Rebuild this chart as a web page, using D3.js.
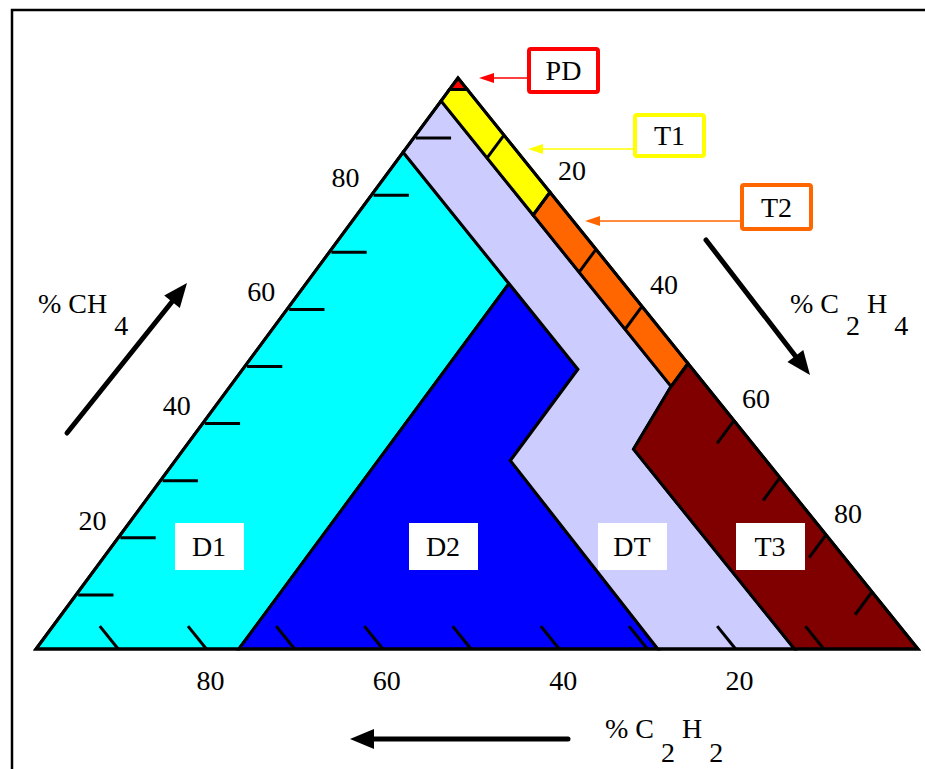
<!DOCTYPE html>
<html>
<head>
<meta charset="utf-8">
<script src="https://cdn.jsdelivr.net/npm/d3@7"></script>
<style>
  html, body { margin: 0; padding: 0; background: #fff; }
  svg { display: block; }
</style>
</head>
<body>
<svg id="chart" width="925" height="769" font-family="'Liberation Serif', 'Times New Roman', Times, serif" font-size="28"></svg>
<script>
// Duval triangle: every point is [CH4 %, C2H2 %, C2H4 %]
const zoneNames = ["D1", "D2", "DT", "T3", "T2", "T1", "PD"];
const zonePD = [[100, 0, 0], [98, 2, 0], [98, 0, 2]];
const zoneT1 = [[98, 2, 0], [96, 4, 0], [76, 4, 20], [80, 0, 20], [98, 0, 2]];
const zoneT2 = [[80, 0, 20], [76, 4, 20], [46, 4, 50], [50, 0, 50]];
const zoneT3 = [[50, 0, 50], [46, 4, 50], [35, 14, 51], [0, 14, 86], [0, 0, 100]];
const zoneD1 = [[0, 100, 0], [87, 13, 0], [64, 13, 23], [0, 77, 23]];
const zoneD2 = [[0, 77, 23], [64, 13, 23], [49, 13, 38], [33, 29, 38], [0, 29.5, 70.5]];
const zoneDT = [[96, 4, 0], [87, 13, 0], [64, 13, 23], [49, 13, 38], [33, 29, 38],
                [0, 29.5, 70.5], [0, 14, 86], [35, 14, 51], [46, 4, 50]];
const tickValues = [10, 20, 30, 40, 50, 60, 70, 80, 90];
const tickLabels = [20, 40, 60, 80];
const tickLength = 4;

const zoneShapes = { PD: zonePD, T1: zoneT1, T2: zoneT2, T3: zoneT3, D1: zoneD1, D2: zoneD2, DT: zoneDT };
const zoneFill = { PD: "#ff0000", T1: "#ffff00", T2: "#ff6600", T3: "#800000",
                   D1: "#00ffff", D2: "#0000ff", DT: "#ccccff" };

const svg = d3.select("#chart");

// frame
svg.append("rect").attr("x", 12).attr("y", 10).attr("width", 930).attr("height", 800)
  .attr("fill", "none").attr("stroke", "#000").attr("stroke-width", 2.5);

// ternary projection: C2H4 runs along the base, CH4 raises and shears towards the apex
const xC2H4 = d3.scaleLinear().domain([0, 100]).range([36, 918]);
const shearCH4 = d3.scaleLinear().domain([0, 100]).range([0, 422]);
const yCH4 = d3.scaleLinear().domain([0, 100]).range([649, 78]);
const px = p => [xC2H4(p[2]) + shearCH4(p[0]), yCH4(p[0])];
const line = d3.line().x(d => px(d)[0]).y(d => px(d)[1]).curve(d3.curveLinearClosed);
const seg = d3.line().x(d => px(d)[0]).y(d => px(d)[1]);

const plot = svg.append("g");
plot.selectAll("path.zone").data(zoneNames).join("path")
  .attr("class", "zone")
  .attr("d", n => line(zoneShapes[n]))
  .attr("fill", n => zoneFill[n])
  .attr("stroke", "#000").attr("stroke-width", 3).attr("stroke-linejoin", "miter");

// outline
plot.append("path").attr("d", line([[100, 0, 0], [0, 100, 0], [0, 0, 100]]))
  .attr("fill", "none").attr("stroke", "#000").attr("stroke-width", 3);

// ticks
const tk = plot.append("g").attr("stroke", "#000").attr("stroke-width", 3).attr("fill", "none");
tk.append("g").attr("transform", "translate(0,3)").selectAll("path").data(tickValues).join("path")
  .attr("d", v => seg([[v, 100 - v, 0], [v, 100 - v - tickLength, tickLength]]));
tk.append("g").selectAll("path").data(tickValues).join("path")
  .attr("d", v => seg([[100 - v, 0, v], [100 - v - tickLength, tickLength, v]]));
tk.append("g").attr("transform", "translate(-6,0)").selectAll("path").data(tickValues).join("path")
  .attr("d", v => seg([[0, v, 100 - v], [tickLength, v, 100 - v - tickLength]]));

// tick labels
const lab = svg.append("g").attr("text-anchor", "middle");
lab.selectAll("text.l").data(tickLabels).join("text").attr("class", "l")
  .attr("x", v => px([v, 100 - v, 0])[0] - 28).attr("y", v => px([v, 100 - v, 0])[1] - 15)
  .attr("dy", "0.35em").text(v => v);
lab.selectAll("text.r").data(tickLabels).join("text").attr("class", "r")
  .attr("x", v => px([100 - v, 0, v])[0] + 22).attr("y", v => px([100 - v, 0, v])[1] - 22)
  .attr("dy", "0.35em").text(v => v);
lab.selectAll("text.b").data(tickLabels).join("text").attr("class", "b")
  .attr("x", v => px([0, v, 100 - v])[0] - 2).attr("y", v => px([0, v, 100 - v])[1] + 31)
  .attr("dy", "0.35em").text(v => v);

// zone name boxes
const zoneBoxes = [["D1", 209], ["D2", 443], ["DT", 632], ["T3", 770]];
const zb = svg.append("g");
zoneBoxes.forEach(([n, cx]) => {
  zb.append("rect").attr("x", cx - 34).attr("y", 523).attr("width", 69).attr("height", 47).attr("fill", "#fff");
  zb.append("text").attr("x", cx).attr("y", 546).attr("dy", "0.35em").attr("text-anchor", "middle").text(n);
});

// callouts for the narrow zones
const callouts = [
  { name: "PD", color: "#ff0000", box: [529, 49, 69, 43], y: 78, tip: 479 },
  { name: "T1", color: "#ffff00", box: [635, 115, 69, 41], y: 149, tip: 528 },
  { name: "T2", color: "#ff6600", box: [742, 185, 69, 44], y: 221, tip: 585 }
];
callouts.forEach(c => {
  const g = svg.append("g");
  const [bx, by, bw, bh] = c.box;
  g.append("line").attr("x1", bx - 2).attr("x2", c.tip + 12).attr("y1", c.y).attr("y2", c.y)
    .attr("stroke", c.color).attr("stroke-width", 1.5);
  g.append("path").attr("d", `M${c.tip},${c.y}L${c.tip + 15},${c.y - 5}L${c.tip + 15},${c.y + 5}Z`).attr("fill", c.color);
  g.append("rect").attr("x", bx).attr("y", by).attr("width", bw).attr("height", bh).attr("rx", 2)
    .attr("fill", "#fff").attr("stroke", c.color).attr("stroke-width", 4);
  g.append("text").attr("x", bx + bw / 2).attr("y", by + bh / 2).attr("dy", "0.35em")
    .attr("text-anchor", "middle").text(c.name);
});

// axis direction arrows
function arrow(x1, y1, x2, y2) {
  const ang = Math.atan2(y2 - y1, x2 - x1), L = 24, W = 10;
  const bx = x2 - L * Math.cos(ang), by = y2 - L * Math.sin(ang);
  svg.append("line").attr("x1", x1).attr("y1", y1).attr("x2", bx).attr("y2", by)
    .attr("stroke", "#000").attr("stroke-width", 5).attr("stroke-linecap", "round");
  const nx = -Math.sin(ang) * W, ny = Math.cos(ang) * W;
  svg.append("path").attr("d", `M${x2},${y2}L${bx + nx},${by + ny}L${bx - nx},${by - ny}Z`).attr("fill", "#000");
}
arrow(67, 433, 187, 283);
arrow(706, 240, 810, 375);
arrow(568, 739, 350, 739);

// axis titles with lowered subscripts
function title(x, y, parts) {
  const t = svg.append("text").attr("x", x).attr("y", y);
  parts.forEach(([s, dy]) => t.append("tspan").attr("dy", dy).text(s));
}
title(38, 313, [["% CH", 0], ["\u00a04", 22]]);
title(790, 313, [["% C", 0], ["\u00a02", 22], ["\u00a0H", -22], ["\u00a04", 22]]);
title(605, 738, [["% C", 0], ["\u00a02", 24], ["\u00a0H", -24], ["\u00a02", 24]]);
</script>
</body>
</html>
